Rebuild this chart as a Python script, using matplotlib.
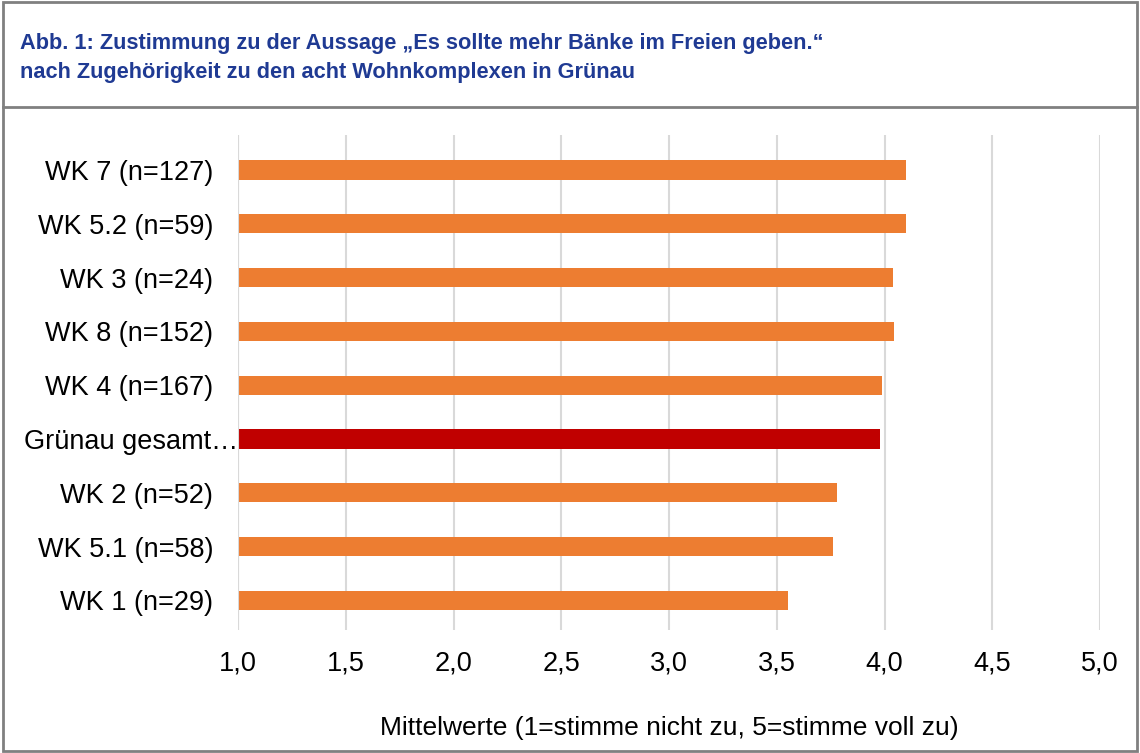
import matplotlib
matplotlib.use("Agg")
import matplotlib.pyplot as plt
import matplotlib.transforms as mtransforms
from matplotlib.patches import Rectangle
from matplotlib.lines import Line2D

plt.rcParams['font.family'] = ['Liberation Sans', 'DejaVu Sans']

labels = ["WK 7 (n=127)", "WK 5.2 (n=59)", "WK 3 (n=24)", "WK 8 (n=152)",
          "WK 4 (n=167)", "Grünau gesamt…", "WK 2 (n=52)", "WK 5.1 (n=58)",
          "WK 1 (n=29)"]
means = [4.10, 4.10, 4.04, 4.045, 3.99, 3.98, 3.78, 3.76, 3.55]
highlight = "Grünau gesamt…"
xticks = [1.0, 1.5, 2.0, 2.5, 3.0, 3.5, 4.0, 4.5, 5.0]

title = ("Abb. 1: Zustimmung zu der Aussage „Es sollte mehr Bänke im Freien geben.“\n"
         "nach Zugehörigkeit zu den acht Wohnkomplexen in Grünau")
xlabel = "Mittelwerte (1=stimme nicht zu, 5=stimme voll zu)"

W, H = 1140, 753
fig = plt.figure(figsize=(W/100, H/100), dpi=100)

orange = "#ED7D31"
red = "#C00000"
colors = [red if l == highlight else orange for l in labels]

# axes: x 1.0 at px 238, 5.0 at px 1100; top 135, bottom 630
ax = fig.add_axes([238/W, 1 - 630/H, (1100-238)/W, (630-135)/H])
ypos = list(range(len(labels)))[::-1]
base = 1.0
ax.barh(ypos, [m - base for m in means], left=base, height=0.36, color=colors, zorder=3)
ax.set_xlim(1.0, 5.0)
ax.set_ylim(-0.55, len(labels) - 0.35)
ax.set_yticks(ypos)
ax.set_yticklabels(labels, fontsize=19.5)
ax.set_xticks(xticks)
ax.set_xticklabels([f"{t:.1f}".replace(".", ",") for t in xticks], fontsize=19.5)
ax.tick_params(length=0)
ax.tick_params(axis='x', pad=15)
ax.tick_params(axis='y', pad=18)
ax.grid(axis='x', color="#D9D9D9", linewidth=1.5, zorder=0)
for s in ax.spines.values():
    s.set_visible(False)
ax.axvline(1.0, color="#D9D9D9", linewidth=1.5, zorder=4)
ax.set_xlabel(xlabel, fontsize=19, labelpad=28)

# the truncated label runs up to the axis line
for t in ax.get_yticklabels():
    if t.get_text() == highlight:
        t.set_transform(t.get_transform() +
                        mtransforms.ScaledTranslation(25/100, 0, fig.dpi_scale_trans))

# title and frame
fig.text(20/W, 1 - 58/H, title, fontsize=15.7, fontweight='bold', color="#1F3A93",
         va='center', ha='left', linespacing=1.55)
fig.add_artist(Rectangle((3/W, 2/H), (W-6)/W, (H-4)/H, transform=fig.transFigure,
                         fill=False, edgecolor="#808080", linewidth=2))
fig.add_artist(Line2D([3/W, (W-3)/W], [1 - 107/H, 1 - 107/H], transform=fig.transFigure,
                      color="#808080", linewidth=2))

fig.savefig("out.png", dpi=100)
